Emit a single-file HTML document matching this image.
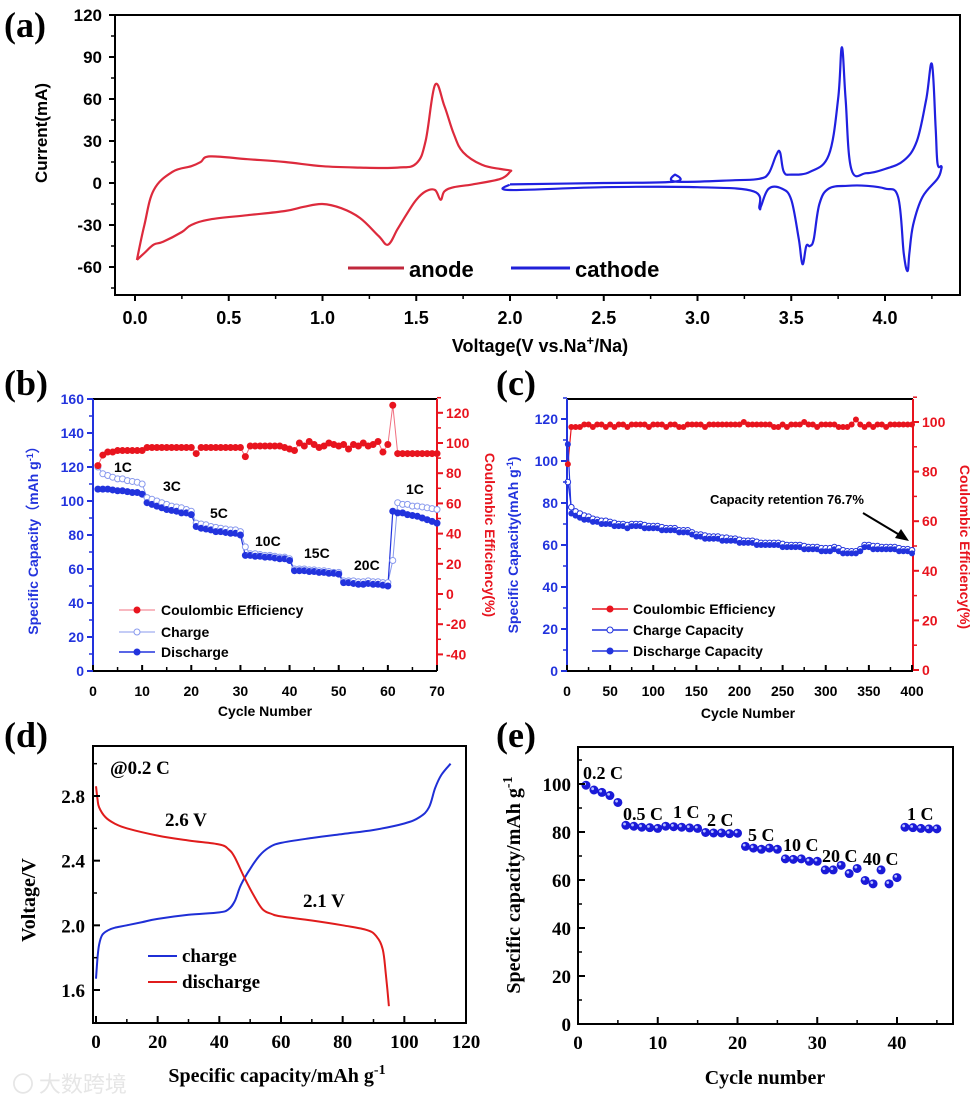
<!DOCTYPE html>
<html><head><meta charset="utf-8">
<style>
html,body{margin:0;padding:0;background:#fff;}
svg{display:block;}
.sa{font-family:"Liberation Sans Narrow","Liberation Sans",sans-serif;font-weight:bold;}
.sb{font-family:"Liberation Sans",sans-serif;font-weight:bold;}
.sr{font-family:"Liberation Serif",serif;font-weight:bold;}
</style></head>
<body>
<svg id="fig" width="975" height="1099" viewBox="0 0 975 1099" xmlns="http://www.w3.org/2000/svg">
<rect width="975" height="1099" fill="#fff"/>
<text x="4" y="37" class="sr" font-size="36">(a)</text>
<text x="4" y="395" class="sr" font-size="36">(b)</text>
<text x="496" y="395" class="sr" font-size="36">(c)</text>
<text x="4" y="747" class="sr" font-size="36">(d)</text>
<text x="496" y="747" class="sr" font-size="36">(e)</text>

<g>
<rect x="115" y="15" width="845" height="280" fill="none" stroke="#000" stroke-width="2"/>
<text x="47" y="133" class="sb" font-size="17" text-anchor="middle" transform="rotate(-90 47 133)">Current(mA)</text>
<text x="540" y="352" class="sa" font-size="18" text-anchor="middle">Voltage(V vs.Na<tspan dy="-7" font-size="13">+</tspan><tspan dy="7">/Na)</tspan></text>
<line x1="348" y1="268" x2="404" y2="268" stroke="#c0283c" stroke-width="3"/>
<text x="409" y="277" class="sa" font-size="22">anode</text>
<line x1="511" y1="268" x2="570" y2="268" stroke="#2020d8" stroke-width="3"/>
<text x="575" y="277" class="sa" font-size="22">cathode</text>
</g>

<g>
<line x1="93" y1="399" x2="437" y2="399" stroke="#000" stroke-width="2"/>
<line x1="93" y1="671" x2="437" y2="671" stroke="#000" stroke-width="2"/>
<line x1="93" y1="399" x2="93" y2="671" stroke="#2233dd" stroke-width="2"/>
<line x1="437" y1="399" x2="437" y2="671" stroke="#e8141e" stroke-width="2"/>
<text x="38" y="537" class="sb" font-size="14" fill="#2233dd" text-anchor="middle" transform="rotate(-90 38 537)">Specific Capacity（mAh g<tspan dy="-5" font-size="9">-1</tspan><tspan dy="5">）</tspan></text>
<text x="485" y="535" class="sb" font-size="14" fill="#e8141e" text-anchor="middle" transform="rotate(90 485 535)">Coulombic Efficiency(%)</text>
<text x="265" y="716" class="sb" font-size="14" text-anchor="middle">Cycle Number</text>
<g class="sb" font-size="14">
<text x="114" y="472">1C</text>
<text x="163" y="491">3C</text>
<text x="210" y="518">5C</text>
<text x="255" y="546">10C</text>
<text x="304" y="558">15C</text>
<text x="354" y="570">20C</text>
<text x="406" y="494">1C</text>
</g>
<line x1="119" y1="610" x2="155" y2="610" stroke="#f07080" stroke-width="1"/>
<circle cx="137" cy="610" r="3.5" fill="#e8141e"/>
<text x="161" y="615" class="sb" font-size="14">Coulombic Efficiency</text>
<line x1="119" y1="632" x2="155" y2="632" stroke="#8899ee" stroke-width="1"/>
<circle cx="137" cy="632" r="3" fill="#fff" stroke="#8899ee"/>
<text x="161" y="637" class="sb" font-size="14">Charge</text>
<line x1="119" y1="652" x2="155" y2="652" stroke="#2233dd" stroke-width="1.5"/>
<circle cx="137" cy="652" r="3.5" fill="#2233dd"/>
<text x="161" y="657" class="sb" font-size="14">Discharge</text>
</g>

<g>
<line x1="567" y1="399" x2="913" y2="399" stroke="#000" stroke-width="2"/>
<line x1="567" y1="671" x2="913" y2="671" stroke="#000" stroke-width="2"/>
<line x1="567" y1="399" x2="567" y2="671" stroke="#2233dd" stroke-width="2"/>
<line x1="913" y1="399" x2="913" y2="671" stroke="#e8141e" stroke-width="2"/>
<text x="518" y="545" class="sb" font-size="14" fill="#2233dd" text-anchor="middle" transform="rotate(-90 518 545)">Specific Capacity(mAh g<tspan dy="-5" font-size="9">-1</tspan><tspan dy="5">)</tspan></text>
<text x="960" y="547" class="sb" font-size="14" fill="#e8141e" text-anchor="middle" transform="rotate(90 960 547)">Coulombic Efficiency(%)</text>
<text x="748" y="718" class="sb" font-size="14" text-anchor="middle">Cycle Number</text>
<text x="710" y="504" class="sb" font-size="13">Capacity retention 76.7%</text>
<line x1="863" y1="513" x2="903" y2="537" stroke="#000" stroke-width="2"/>
<polygon points="909,541 895,538 901,529" fill="#000"/>
<line x1="592" y1="609" x2="628" y2="609" stroke="#e8141e" stroke-width="1.5"/>
<circle cx="610" cy="609" r="3.5" fill="#e8141e"/>
<text x="633" y="614" class="sb" font-size="14">Coulombic Efficiency</text>
<line x1="592" y1="630" x2="628" y2="630" stroke="#2233dd" stroke-width="1.5"/>
<circle cx="610" cy="630" r="3" fill="#fff" stroke="#2233dd"/>
<text x="633" y="635" class="sb" font-size="14">Charge Capacity</text>
<line x1="592" y1="651" x2="628" y2="651" stroke="#2233dd" stroke-width="1.5"/>
<circle cx="610" cy="651" r="3.5" fill="#2233dd"/>
<text x="633" y="656" class="sb" font-size="14">Discharge Capacity</text>
</g>

<g>
<rect x="93" y="746" width="373" height="277" fill="none" stroke="#000" stroke-width="2"/>
<text x="35" y="900" class="sr" font-size="20" text-anchor="middle" transform="rotate(-90 35 900)">Voltage/V</text>
<text x="277" y="1082" class="sr" font-size="20" text-anchor="middle">Specific capacity/mAh g<tspan dy="-8" font-size="14">-1</tspan></text>
<text x="110" y="774" class="sr" font-size="19">@0.2 C</text>
<text x="165" y="826" class="sr" font-size="19">2.6 V</text>
<text x="303" y="907" class="sr" font-size="19">2.1 V</text>
<line x1="148" y1="956" x2="177" y2="956" stroke="#1f2fd6" stroke-width="2"/>
<text x="182" y="962" class="sr" font-size="19">charge</text>
<line x1="148" y1="982" x2="177" y2="982" stroke="#e01c1c" stroke-width="2"/>
<text x="182" y="988" class="sr" font-size="19">discharge</text>
<text x="12" y="1092" font-family="'Noto Sans CJK SC',sans-serif" font-size="22" fill="#e6e6e6">〇 大数跨境</text>
</g>

<g>
<rect x="578" y="747" width="375" height="277" fill="none" stroke="#000" stroke-width="2"/>
<text x="520" y="885" class="sr" font-size="20" text-anchor="middle" transform="rotate(-90 520 885)">Specific capacity/mAh g<tspan dy="-8" font-size="14">-1</tspan></text>
<text x="765" y="1084" class="sr" font-size="20" text-anchor="middle">Cycle number</text>
<g class="sr" font-size="18">
<text x="583" y="779">0.2 C</text>
<text x="623" y="820">0.5 C</text>
<text x="673" y="818">1 C</text>
<text x="707" y="826">2 C</text>
<text x="748" y="841">5 C</text>
<text x="783" y="851">10 C</text>
<text x="822" y="862">20 C</text>
<text x="863" y="865">40 C</text>
<text x="907" y="820">1 C</text>
</g>
</g>
</svg>
<script>
// ---- Panel a data (CV) ----
const anodeV = [0.01,0.05,0.1,0.2,0.3,0.35,0.4,0.6,0.8,1.0,1.2,1.4,1.5,1.55,1.6,1.65,1.7,1.75,1.85,1.95,2.0,2.0,1.95,1.8,1.7,1.65,1.63,1.6,1.55,1.5,1.45,1.4,1.35,1.3,1.2,1.1,1.0,0.9,0.8,0.6,0.4,0.3,0.25,0.15,0.1,0.05,0.01];
const anodeI = [-55,-30,-5,8,12,15,19,17,15,12,11,11,14,30,70,55,35,22,13,10,9,8,3,-1,-3,-6,-12,-5,-6,-12,-22,-33,-44,-38,-25,-18,-15,-17,-20,-23,-26,-30,-35,-42,-44,-50,-55];
const cathodeV = [2.0,2.5,2.88,2.88,2.885,3.2,3.33,3.38,3.42,3.44,3.46,3.5,3.6,3.7,3.75,3.77,3.79,3.82,3.9,4.0,4.1,4.17,4.22,4.25,4.27,4.28,4.3,4.3,4.28,4.2,4.15,4.13,4.12,4.1,4.07,4.0,3.9,3.8,3.7,3.65,3.62,3.6,3.58,3.56,3.54,3.5,3.45,3.38,3.34,3.33,3.3,3.0,2.5,2.0,2.0];
const cathodeI = [-1,0,1,6,1,2,3,7,20,22,8,6,8,20,60,97,60,10,7,10,16,30,60,85,40,14,12,10,3,-10,-30,-50,-63,-50,-10,-4,-2,-2,-4,-15,-40,-45,-45,-58,-40,-12,-4,-4,-16,-18,-6,-3,-3,-5,-1];
const aXTicks = ["0.0","0.5","1.0","1.5","2.0","2.5","3.0","3.5","4.0"];
const aYTicks = [-60,-30,0,30,60,90,120];

// ---- Panel b data ----
const bDischarge = [107,107,107,106.5,106,106,105.5,105,105,104, 99,98,97,96,95,94.5,94,93,93,92, 85,84,83.5,83,82,82,81.5,81,81,80, 68,68,67.5,67.5,67,67,66.5,66,66,65, 59,59,59,58.5,58.5,58,58,57.5,57.5,57, 52,52,51.5,51,51,51.5,51,51,50.5,50, 94,93,93,92,91.5,91,90,89,88,87];
const bCharge = [120,116,115,114,113,113,112,111.5,111,110, 102,101,100,99,98,97,96.5,96,95,94, 87,86.5,86,85,84.5,84,83.5,83,83,82, 73,69,69,68.5,68,68,67.5,67,67,66, 60,60,60,59.5,59.5,59,59,58.5,58,58, 53,53,53,52.5,52.5,53,52.5,52.5,52,52, 65,99,98,98,97,97,96.5,96,95.5,95];
const bCE = [85,92,94,94,95,95,95,95,95,95, 97,97,97,97,97,97,97,97,97,97, 93,97,97,97,97,97,97,97,97,97, 91,98,98,98,98,98,98,98,97,96, 95,100,98,101,99,97,98,100,99,98, 99,96,99,98,100,98,99,101,94,99, 125,93,93,93,93,93,93,93,93,93];
const bXTicks = [0,10,20,30,40,50,60,70];
const bYTicks = [0,20,40,60,80,100,120,140,160];
const bY2Ticks = [-40,-20,0,20,40,60,80,100,120];

// ---- Panel c data ----
const cCycles = [1,5,10,15,20,25,30,35,40,45,50,55,60,65,70,75,80,85,90,95,100,105,110,115,120,125,130,135,140,145,150,155,160,165,170,175,180,185,190,195,200,205,210,215,220,225,230,235,240,245,250,255,260,265,270,275,280,285,290,295,300,305,310,315,320,325,330,335,340,345,350,355,360,365,370,375,380,385,390,395,400];
const cDischarge = [108,75,74,73,72,72,71,71,70,70,70,69,69,69,68,69,69,69,68,68,68,68,67,67,67,67,66,66,66,65,64,64,63,63,63,63,62,62,62,62,61,61,61,61,60,60,60,60,60,60,59,59,59,59,59,58,58,58,58,57,57,57,58,57,56,56,56,56,57,59,59,58,58,58,58,58,58,57,57,57,56];
const cCharge = [90,78,76,75,74,73.5,72.5,72,71.5,71.5,71,70.5,70,70,69.5,70,70,70,69.5,69,69,69,68.5,68,68,68,67,67,67,66,65,65,64.5,64,64,64,63.5,63.5,63,63,62.5,62,62,62,61.5,61,61,61,61,61,60.5,60,60,60,60,59.5,59,59,59,58.5,58.5,58.5,59,58.5,57.5,57,57,57,58,60,60,59.5,59.5,59,59,59,59,58.5,58,58,57.5];
const cCE = [83,98,98,98,99,99,98,99,99,98,99,98,99,99,98,99,99,99,99,98,99,99,99,98,99,99,98,98,99,99,99,99,98,99,99,99,99,99,99,99,99,100,99,99,99,99,99,99,98,98,99,98,99,99,99,100,99,99,98,99,99,99,99,98,98,98,99,101,99,98,99,98,99,99,98,99,99,99,99,99,99];
const cXTicks = [0,50,100,150,200,250,300,350,400];
const cYTicks = [0,20,40,60,80,100,120];
const cY2Ticks = [0,20,40,60,80,100];

// ---- Panel d data ----
const dChargeCap = [0,0.5,1,2,4,6,10,15,20,30,40,43,45,47,50,53,56,60,70,80,90,100,105,108,110,112,115];
const dChargeV = [1.67,1.8,1.88,1.94,1.97,1.985,2.0,2.02,2.04,2.065,2.08,2.1,2.15,2.25,2.35,2.43,2.48,2.51,2.54,2.565,2.59,2.63,2.67,2.73,2.85,2.93,3.0];
const dDisCap = [0,0.5,1,3,6,10,20,30,40,43,45,48,51,54,57,60,70,80,88,91,93,94,95];
const dDisV = [2.86,2.78,2.73,2.67,2.63,2.6,2.555,2.525,2.5,2.47,2.42,2.3,2.19,2.1,2.07,2.055,2.03,2.0,1.97,1.93,1.85,1.7,1.5];
const dXTicks = [0,20,40,60,80,100,120];
const dYTicks = ["1.6","2.0","2.4","2.8"];

// ---- Panel e data ----
const eCapacity = [99.5,97.5,96.5,95.2,92.3,82.8,82.4,82,81.8,81.5,82.4,82.2,82,81.7,81.5,79.8,79.6,79.6,79.3,79.5,74,73.3,72.8,73.3,72.8,68.8,68.6,68.8,67.8,67.8,64.2,64.2,66.1,62.7,64.8,59.8,58.4,64.2,58.4,61,82,81.8,81.5,81.3,81.3];
const eXTicks = [0,10,20,30,40];
const eYTicks = [0,20,40,60,80,100];

const NS = "http://www.w3.org/2000/svg";
const svg = document.getElementById("fig");
function lin(d0,d1,r0,r1){return v=>r0+(v-d0)*(r1-r0)/(d1-d0);}
function mk(tag, attrs, parent){const e=document.createElementNS(NS,tag);for(const k in attrs)e.setAttribute(k,attrs[k]);(parent||svg).appendChild(e);return e;}
function pathD(xs,ys,fx,fy){return xs.map((v,i)=>(i?"L":"M")+fx(v).toFixed(1)+","+fy(ys[i]).toFixed(1)).join("");}
function smoothD(xs,ys,fx,fy){
  const p=xs.map((v,i)=>[fx(v),fy(ys[i])]);
  let d="M"+p[0][0].toFixed(1)+","+p[0][1].toFixed(1);
  for(let i=0;i<p.length-1;i++){
    const p0=p[Math.max(0,i-1)],p1=p[i],p2=p[i+1],p3=p[Math.min(p.length-1,i+2)];
    const t=0.18;
    const c1=[p1[0]+(p2[0]-p0[0])*t,p1[1]+(p2[1]-p0[1])*t];
    const c2=[p2[0]-(p3[0]-p1[0])*t,p2[1]-(p3[1]-p1[1])*t];
    d+="C"+c1[0].toFixed(1)+","+c1[1].toFixed(1)+" "+c2[0].toFixed(1)+","+c2[1].toFixed(1)+" "+p2[0].toFixed(1)+","+p2[1].toFixed(1);
  }
  return d;
}

// ===== Panel a =====
const xa = lin(0,4,135,885), ya = lin(0,120,183,15);
let el;
el = mk("path",{d:smoothD(anodeV,anodeI,xa,ya),fill:"none",stroke:"#dd2a3c","stroke-width":2.2,"stroke-linejoin":"round"});


el = mk("path",{d:smoothD(cathodeV,cathodeI,xa,ya),fill:"none",stroke:"#2020e0","stroke-width":2.2,"stroke-linejoin":"round"});


aXTicks.forEach(t=>{const v=parseFloat(t);
  el = mk("line",{x1:xa(v),y1:295,x2:xa(v),y2:301,stroke:"#000","stroke-width":2});
  
  
  if(v+0.25<=4.3){el = mk("line",{x1:xa(v+0.25),y1:295,x2:xa(v+0.25),y2:299,stroke:"#000","stroke-width":1.5});
  
  }
  el = mk("text",{x:xa(v),y:324,"text-anchor":"middle","font-size":18,class:"sa"});
  el.textContent=t;
  
  
});
aYTicks.forEach(v=>{
  el = mk("line",{x1:109,y1:ya(v),x2:115,y2:ya(v),stroke:"#000","stroke-width":2});
  
  
  el = mk("line",{x1:111,y1:ya(v-15),x2:115,y2:ya(v-15),stroke:"#000","stroke-width":1.5});
  
  
  el = mk("text",{x:102,y:ya(v)+6,"text-anchor":"end","font-size":17,class:"sa"});
  el.textContent=String(v);
  
  
});

// ===== Panel b =====
const xb = lin(0,70,93,437), yb = lin(0,160,671,399), yb2 = lin(0,100,594,443);
const bCyc = bDischarge.map((_,i)=>i+1);
el = mk("path",{d:pathD(bCyc,bCE,xb,yb2),fill:"none",stroke:"#f07080","stroke-width":1});


el = mk("path",{d:pathD(bCyc,bCharge,xb,yb),fill:"none",stroke:"#8899ee","stroke-width":1});


el = mk("path",{d:pathD(bCyc,bDischarge,xb,yb),fill:"none",stroke:"#2233dd","stroke-width":1.2});


bCyc.forEach((c,i)=>{
  el = mk("circle",{cx:xb(c),cy:yb(bCharge[i]),r:3,fill:"#fff",stroke:"#8899ee","stroke-width":1});
  
  
  el = mk("circle",{cx:xb(c),cy:yb(bDischarge[i]),r:3.5,fill:"#2233dd"});
  
  
  el = mk("circle",{cx:xb(c),cy:yb2(bCE[i]),r:3.5,fill:"#e8141e"});
  
  
});
bXTicks.forEach(v=>{
  el = mk("line",{x1:xb(v),y1:671,x2:xb(v),y2:665,stroke:"#000","stroke-width":2});
  
  
  if(v<70){el = mk("line",{x1:xb(v+5),y1:671,x2:xb(v+5),y2:667,stroke:"#000","stroke-width":1.5});
  
  }
  el = mk("text",{x:xb(v),y:696,"text-anchor":"middle","font-size":14,class:"sb"});
  el.textContent=String(v);
  
  
});
bYTicks.forEach(v=>{
  el = mk("line",{x1:87,y1:yb(v),x2:93,y2:yb(v),stroke:"#2233dd","stroke-width":2});
  
  
  if(v<160){el = mk("line",{x1:89,y1:yb(v+10),x2:93,y2:yb(v+10),stroke:"#2233dd","stroke-width":1.5});
  
  }
  el = mk("text",{x:84,y:yb(v)+5,"text-anchor":"end","font-size":14,class:"sb",fill:"#2233dd"});
  el.textContent=String(v);
  
  
});
bY2Ticks.forEach(v=>{
  el = mk("line",{x1:437,y1:yb2(v),x2:443,y2:yb2(v),stroke:"#e8141e","stroke-width":2});
  
  
  el = mk("line",{x1:437,y1:yb2(v+10),x2:441,y2:yb2(v+10),stroke:"#e8141e","stroke-width":1.5});
  
  
  el = mk("text",{x:446,y:yb2(v)+5,"text-anchor":"start","font-size":14,class:"sb",fill:"#e8141e"});
  el.textContent=String(v);
  
  
});

// ===== Panel c =====
const xc = lin(0,400,567,912), yc = lin(0,120,671,419), yc2 = lin(0,100,670,422);
el = mk("path",{d:pathD(cCycles,cCE,xc,yc2),fill:"none",stroke:"#e8141e","stroke-width":1.2});


el = mk("path",{d:pathD(cCycles,cCharge,xc,yc),fill:"none",stroke:"#2233dd","stroke-width":1.2});


el = mk("path",{d:pathD(cCycles,cDischarge,xc,yc),fill:"none",stroke:"#2233dd","stroke-width":1.2});


cCycles.forEach((c,i)=>{
  el = mk("circle",{cx:xc(c),cy:yc(cCharge[i]),r:2.8,fill:"#fff",stroke:"#2233dd","stroke-width":1});
  
  
  el = mk("circle",{cx:xc(c),cy:yc(cDischarge[i]),r:3,fill:"#2233dd"});
  
  
  el = mk("circle",{cx:xc(c),cy:yc2(cCE[i]),r:3,fill:"#e8141e"});
  
  
});
cXTicks.forEach(v=>{
  el = mk("line",{x1:xc(v),y1:671,x2:xc(v),y2:665,stroke:"#000","stroke-width":2});
  
  
  if(v<400){el = mk("line",{x1:xc(v+25),y1:671,x2:xc(v+25),y2:667,stroke:"#000","stroke-width":1.5});
  
  }
  el = mk("text",{x:xc(v),y:696,"text-anchor":"middle","font-size":14,class:"sb"});
  el.textContent=String(v);
  
  
});
cYTicks.forEach(v=>{
  el = mk("line",{x1:561,y1:yc(v),x2:567,y2:yc(v),stroke:"#2233dd","stroke-width":2});
  
  
  el = mk("line",{x1:563,y1:yc(v+10),x2:567,y2:yc(v+10),stroke:"#2233dd","stroke-width":1.5});
  
  
  el = mk("text",{x:558,y:yc(v)+5,"text-anchor":"end","font-size":14,class:"sb",fill:"#2233dd"});
  el.textContent=String(v);
  
  
});
cY2Ticks.forEach(v=>{
  el = mk("line",{x1:913,y1:yc2(v),x2:919,y2:yc2(v),stroke:"#e8141e","stroke-width":2});
  
  
  el = mk("line",{x1:913,y1:yc2(v+10),x2:917,y2:yc2(v+10),stroke:"#e8141e","stroke-width":1.5});
  
  
  el = mk("text",{x:922,y:yc2(v)+5,"text-anchor":"start","font-size":14,class:"sb",fill:"#e8141e"});
  el.textContent=String(v);
  
  
});

// ===== Panel d =====
const xd = lin(0,120,96,466), yd = lin(1.6,2.8,990,796);
el = mk("path",{d:smoothD(dChargeCap,dChargeV,xd,yd),fill:"none",stroke:"#1f2fd6","stroke-width":2});


el = mk("path",{d:smoothD(dDisCap,dDisV,xd,yd),fill:"none",stroke:"#e01c1c","stroke-width":2});


dXTicks.forEach(v=>{
  el = mk("line",{x1:xd(v),y1:1023,x2:xd(v),y2:1016,stroke:"#000","stroke-width":2});
  
  
  if(v<120){el = mk("line",{x1:xd(v+10),y1:1023,x2:xd(v+10),y2:1019,stroke:"#000","stroke-width":1.5});
  
  }
  el = mk("text",{x:xd(v),y:1048,"text-anchor":"middle","font-size":19,class:"sr"});
  el.textContent=String(v);
  
  
});
dYTicks.forEach(t=>{const v=parseFloat(t);
  el = mk("line",{x1:93,y1:yd(v),x2:100,y2:yd(v),stroke:"#000","stroke-width":2});
  
  
  el = mk("line",{x1:93,y1:yd(v+0.2),x2:97,y2:yd(v+0.2),stroke:"#000","stroke-width":1.5});
  
  
  el = mk("text",{x:85,y:yd(v)+7,"text-anchor":"end","font-size":19,class:"sr"});
  el.textContent=t;
  
  
});

// ===== Panel e =====
const xe = lin(0,40,578,897), ye = lin(0,100,1024,784);
eCapacity.forEach((v,i)=>{
  el = mk("circle",{cx:xe(i+1),cy:ye(v),r:4.5,fill:"#1a1ad8"});
  
  
  el = mk("circle",{cx:xe(i+1)-1.3,cy:ye(v)-1.3,r:1.4,fill:"#b8c0ff"});
  
  
});
eXTicks.forEach(v=>{
  el = mk("line",{x1:xe(v),y1:1024,x2:xe(v),y2:1017,stroke:"#000","stroke-width":2});
  
  
  el = mk("line",{x1:xe(v+5),y1:1024,x2:xe(v+5),y2:1020,stroke:"#000","stroke-width":1.5});
  
  
  el = mk("text",{x:xe(v),y:1049,"text-anchor":"middle","font-size":19,class:"sr"});
  el.textContent=String(v);
  
  
});
eYTicks.forEach(v=>{
  el = mk("line",{x1:578,y1:ye(v),x2:585,y2:ye(v),stroke:"#000","stroke-width":2});
  
  
  el = mk("line",{x1:578,y1:ye(v+10),x2:582,y2:ye(v+10),stroke:"#000","stroke-width":1.5});
  
  
  el = mk("text",{x:571,y:ye(v)+7,"text-anchor":"end","font-size":19,class:"sr"});
  el.textContent=String(v);
  
  
});
</script>
</body></html>
